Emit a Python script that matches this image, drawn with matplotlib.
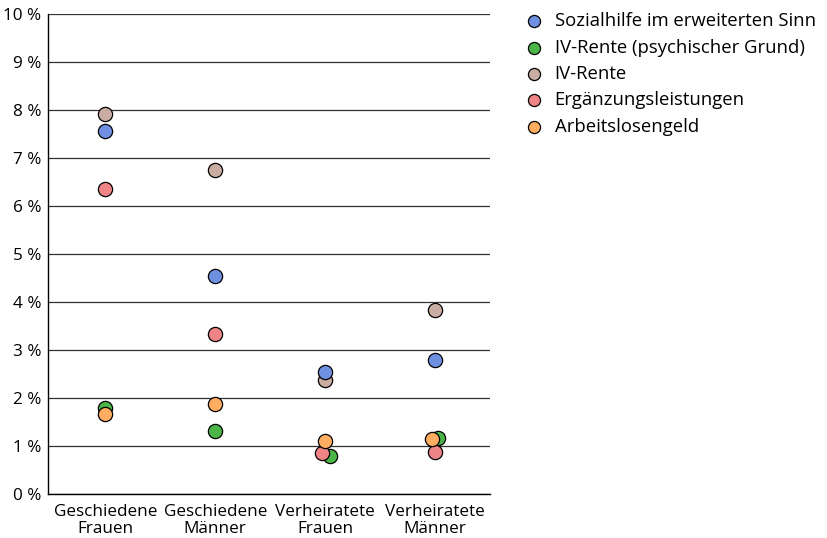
import matplotlib
matplotlib.use('Agg')
import matplotlib.pyplot as plt

plt.rcParams['font.family'] = ['Open Sans', 'DejaVu Sans']

# Kategorien und Werte (in %)
categories = ['Geschiedene\nFrauen', 'Geschiedene\nMänner', 'Verheiratete\nFrauen', 'Verheiratete\nMänner']
series_names = ['Sozialhilfe im erweiterten Sinn', 'IV-Rente (psychischer Grund)', 'IV-Rente',
                'Ergänzungsleistungen', 'Arbeitslosengeld']
sozialhilfe = [7.56, 4.54, 2.54, 2.79]
iv_psych = [1.79, 1.31, 0.79, 1.17]
iv_rente = [7.92, 6.75, 2.37, 3.83]
ergaenzung = [6.35, 3.33, 0.85, 0.87]
arbeitslos = [1.67, 1.87, 1.10, 1.15]
values = [sozialhilfe, iv_psych, iv_rente, ergaenzung, arbeitslos]
colors = ['#6f8fe0', '#4cb548', '#c9aca2', '#ef8486', '#ffad60']
# kleine seitliche Verschiebung, wo Punkte sich überdecken
dodge = [[0, 0, 0, 0], [0, 0, 0.04, 0.03], [0, 0, 0, 0], [0, 0, -0.03, 0], [0, 0, 0, -0.03]]

fig = plt.figure(figsize=(8.28, 5.38), dpi=100)
ax = fig.add_axes([0.058, 0.082, 0.534, 0.892])

# Zeichenreihenfolge wie im Original (grün hinten, orange vorne)
order = [1, 2, 0, 3, 4]
handles = {}
for i in order:
    xs = [j + dodge[i][j] for j in range(len(categories))]
    handles[i] = ax.scatter(xs, values[i], s=105, color=colors[i], edgecolor='black',
                            linewidth=0.9, label=series_names[i], zorder=3)

ax.set_xlim(-0.52, 3.5)
ax.set_ylim(0, 10)
ax.set_yticks(range(0, 11))
ax.set_yticklabels([f'{v} %' for v in range(0, 11)])
ax.set_xticks(range(len(categories)))
ax.set_xticklabels(categories, linespacing=1.15)
ax.tick_params(length=0, labelsize=12.3, pad=5)
ax.tick_params(axis='x', pad=7)
ax.grid(axis='y', color='#333333', linewidth=0.9)
ax.set_axisbelow(True)
for s in ['right', 'top']:
    ax.spines[s].set_visible(False)
ax.spines['left'].set_linewidth(1.0)
ax.spines['bottom'].set_linewidth(1.0)

fig.legend([handles[i] for i in range(5)], series_names, loc='upper left',
           bbox_to_anchor=(0.603, 1.008), frameon=False, fontsize=13.3,
           handletextpad=0.1, labelspacing=0.45, markerscale=0.85)

fig.savefig('out.png', dpi=100)
